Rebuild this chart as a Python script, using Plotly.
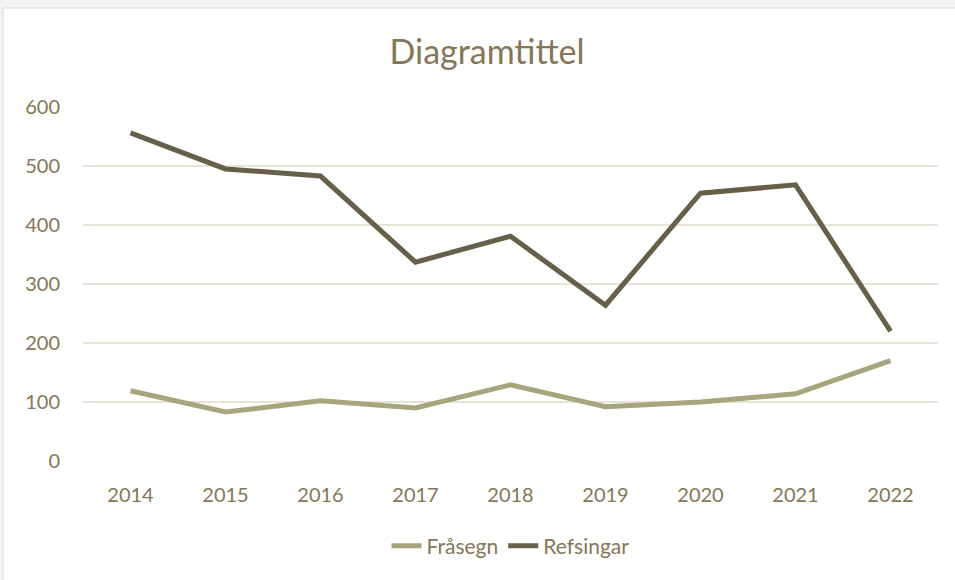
import plotly.graph_objects as go

years = ["2014", "2015", "2016", "2017", "2018", "2019", "2020", "2021", "2022"]
frasegn = [119, 83, 102, 90, 129, 92, 100, 114, 170]
refsingar = [556, 495, 483, 337, 381, 264, 454, 468, 220]

text_color = "#857656"
font_family = "Lato, 'Open Sans', sans-serif"

fig = go.Figure()
fig.add_trace(go.Scatter(x=years, y=frasegn, mode="lines", name="Fråsegn",
                         line=dict(color="#a8a57c", width=5)))
fig.add_trace(go.Scatter(x=years, y=refsingar, mode="lines", name="Refsingar",
                         line=dict(color="#675f47", width=5)))

L, R, T, B = 83, 17, 107, 119
W, H = 955, 580
pw, ph = W - L - R, H - T - B

def px_x(p):
    return (p - L) / pw

def px_y(p):
    return (H - B - p) / ph

fig.update_layout(
    width=W, height=H,
    margin=dict(l=L, r=R, t=T, b=B),
    paper_bgcolor="#f3f3f3",
    plot_bgcolor="white",
    title=dict(text="Diagramtittel", x=0.51, xanchor="center", y=1 - 52 / H, yanchor="middle",
               font=dict(family=font_family, size=34, color=text_color)),
    font=dict(family=font_family, size=20, color=text_color),
    xaxis=dict(type="category", range=[-0.5, 8.5], showgrid=False, showline=False, ticks="",
               ticklabelstandoff=20, tickfont=dict(size=20, color=text_color)),
    yaxis=dict(range=[0, 600], dtick=100, showgrid=True, gridcolor="#e7e3d8", gridwidth=1.5,
               zeroline=False, showline=False, ticks="", ticklabelstandoff=22,
               tickfont=dict(size=20, color=text_color)),
    legend=dict(orientation="h", x=0.5, xanchor="center", y=px_y(546), yanchor="middle",
                font=dict(size=21, color=text_color), bgcolor="rgba(0,0,0,0)"),
    shapes=[dict(type="rect", xref="paper", yref="paper",
                 x0=px_x(3), x1=px_x(965), y0=px_y(595), y1=px_y(8),
                 fillcolor="white", line=dict(color="#d9d9d9", width=1), layer="below")],
)

fig.write_html("out.html", config={"displayModeBar": False},
               post_script="document.body.style.margin='0';")
